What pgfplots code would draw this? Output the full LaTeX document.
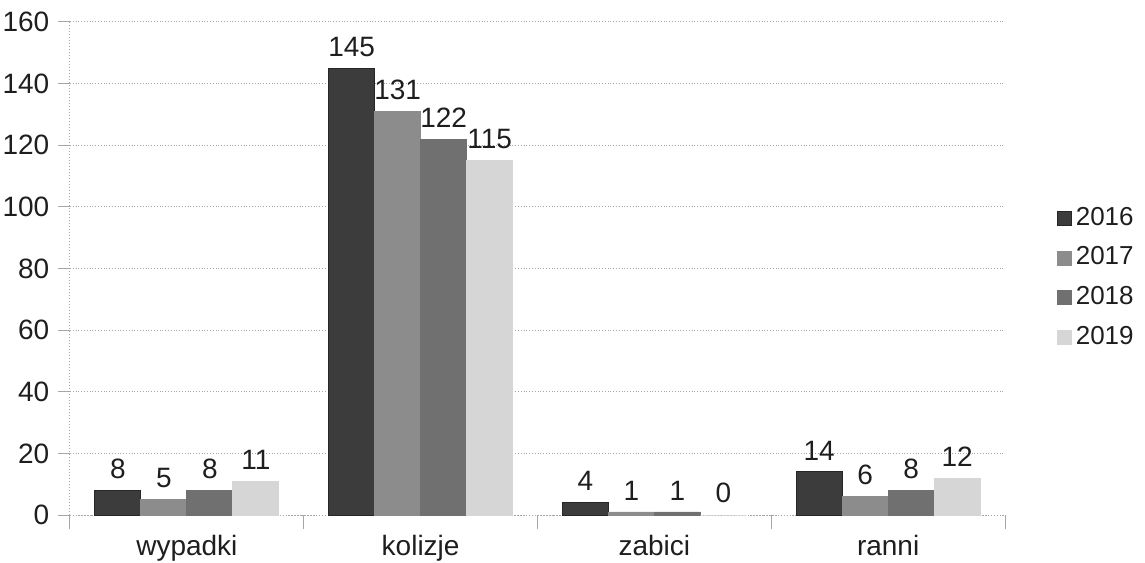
\documentclass[border=0pt]{standalone}
\usepackage{pgfplots}
\pgfplotsset{compat=1.18}
\usepackage{fontspec}
\setmainfont{Liberation Sans}
\definecolor{cA}{HTML}{3C3C3C}
\definecolor{cB}{HTML}{8C8C8C}
\definecolor{cC}{HTML}{707070}
\definecolor{cD}{HTML}{D6D6D6}
\definecolor{txt}{HTML}{1E1E1E}
\begin{document}
\fontsize{14}{16}\selectfont
\begin{tikzpicture}
\useasboundingbox (-35pt,-23.5pt) rectangle (537.5pt,257.5pt);
\begin{axis}[
  at={(0pt,0pt)}, anchor=south west,
  scale only axis, width=467.5pt, height=246.5pt,
  ybar=0pt, bar width=23pt,
  xmin=-0.5, xmax=3.5, ymin=0, ymax=160,
  ytick={0,20,...,160},
  xtick={0,1,2,3},
  xticklabels={wypadki,kolizje,zabici,ranni},
  minor xtick={-0.5,0.5,1.5,2.5,3.5},
  major x tick style={draw=none},
  minor tick length=7pt,
  major tick length=6pt,
  tick pos=left, tick align=outside,
  every tick/.style={gray!70, line width=0.5pt},
  axis x line*=bottom, axis y line*=left,
  axis line style={gray!70, densely dotted, line width=0.5pt},
  ymajorgrids,
  grid style={gray!70, densely dotted, line width=0.5pt},
  /pgf/number format/assume math mode=true,
  tick label style={font=\fontsize{14}{16}\selectfont, text=txt},
  xticklabel style={yshift=1pt},
  yticklabel style={xshift=0.5pt},
  nodes near coords,
  every node near coord/.append style={font=\fontsize{14}{16}\selectfont, text=txt, yshift=1pt},
  legend style={at={(1.055,0.481)}, anchor=west, draw=none, fill=none,
    font=\fontsize{13}{15}\selectfont, text=txt, row sep=4.75pt, inner sep=0pt},
  legend cell align=left,
  legend image code/.code={\fill[#1] (0pt,-3.5pt) rectangle (7pt,3.5pt);},
]
\addplot[fill=cA, draw=black!85, line width=0.5pt] coordinates {(0,8) (1,145) (2,4) (3,14)};
\addplot[fill=cB, draw=cB] coordinates {(0,5) (1,131) (2,1) (3,6)};
\addplot[fill=cC, draw=cC] coordinates {(0,8) (1,122) (2,1) (3,8)};
\addplot[fill=cD, draw=cD] coordinates {(0,11) (1,115) (2,0) (3,12)};
\legend{2016,2017,2018,2019}
\end{axis}
\end{tikzpicture}
\end{document}
